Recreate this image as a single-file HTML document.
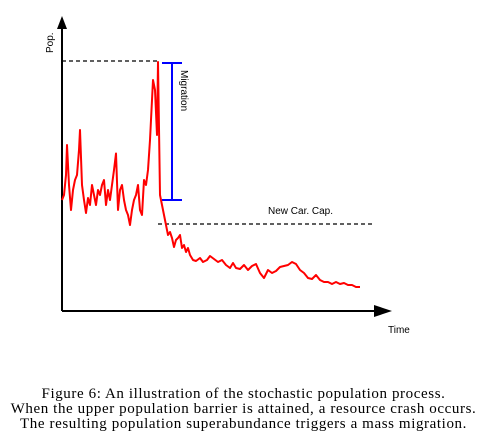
<!DOCTYPE html>
<html><head><meta charset="utf-8"><style>
body{margin:0;background:#fff;width:487px;height:437px;overflow:hidden;font-family:"Liberation Sans",sans-serif}
#cap{position:absolute;left:0;top:387px;width:487px;text-align:center;font-family:"Liberation Serif",serif;font-size:15px;letter-spacing:0.6px;line-height:15px;color:#000;white-space:nowrap}
</style></head><body>
<svg id="chart" width="487" height="380" style="position:absolute;left:0;top:0">
<line x1="62" y1="311" x2="62" y2="26" stroke="#000" stroke-width="2"/>
<polygon points="57,29 62,16 67,29" fill="#000"/>
<line x1="62" y1="311" x2="378" y2="311" stroke="#000" stroke-width="2"/>
<polygon points="374,305 392,311 374,317" fill="#000"/>
<text transform="translate(53,53) rotate(-90)" font-size="10">Pop.</text>
<text x="388" y="333" font-size="10">Time</text>
<line x1="62" y1="61" x2="158" y2="61" stroke="#000" stroke-dasharray="4,3" stroke-width="1.2"/>
<line x1="158" y1="224" x2="375" y2="224" stroke="#000" stroke-dasharray="4,3" stroke-width="1.2"/>
<text x="268" y="214" font-size="10">New Car. Cap.</text>
<g stroke="blue" stroke-width="2">
<line x1="172" y1="63" x2="172" y2="200"/><line x1="162" y1="63" x2="182" y2="63"/><line x1="162" y1="200" x2="182" y2="200"/></g>
<text transform="translate(181,70) rotate(90)" font-size="10">Migration</text>
<path id="series" fill="none" stroke="red" stroke-width="2" stroke-linejoin="round"/>
</svg>
<div id="cap">Figure 6: An illustration of the stochastic population process.<br>When the upper population barrier is attained, a resource crash occurs.<br>The resulting population superabundance triggers a mass migration.</div>
<script>
const times=[0,2,4,5,7,9,11,13,15,17,18,20,22,24,26,28,30,32,34,36,38,40,42,44,46,48,50,52,54,56,58,60,62,64,66,68,70,72,74,76,78,80,82,84,86,88,90,91,93,95,96,98,100,102,104,106,108,110,112,114,116,118,120,122,124,126,128,131,134,138,141,145,148,152,156,160,164,168,171,174,178,182,186,190,194,198,202,206,210,214,218,222,226,230,234,238,242,246,250,254,258,262,266,270,274,278,282,286,290,294,298];
const population=[44.4,46.4,54.4,66.4,50.4,40.4,48.4,52.4,54.4,64.4,72.4,50.4,44.4,39.2,45.2,42.4,50.4,46.4,42.4,48.4,46.4,50.4,52.4,42.4,48.4,44.4,50.4,56.4,63,40.4,48.4,50.4,44.4,40.4,38.4,34.4,40.4,44.4,46.4,50.4,40.4,38.4,52.4,50.4,56.4,68.4,84.4,92.4,88.4,70.4,99.6,46.4,42.4,38.4,34.4,30.4,31.6,29.2,25.6,28.4,29.2,30.4,25.2,26.4,23.6,25.2,22.4,20.4,20,21.2,19.6,20.4,22,20.8,19.6,20.4,18.4,17.2,19.2,17.2,16.8,18.4,16.4,18,18.8,15.2,13.2,16.4,15.2,16,17.6,18,18.4,19.6,18.8,16.4,15.2,13.2,12.8,14.4,12.4,11.6,11.6,10.8,11.6,10.8,11.2,10.4,10.4,9.6,9.6];
const xS=t=>62+t, yS=p=>311-p*2.5;
let d='';
times.forEach((t,i)=>{d+=(i?'L':'M')+xS(t).toFixed(1)+','+yS(population[i]).toFixed(1);});
document.getElementById('series').setAttribute('d',d);
</script>
</body></html>
